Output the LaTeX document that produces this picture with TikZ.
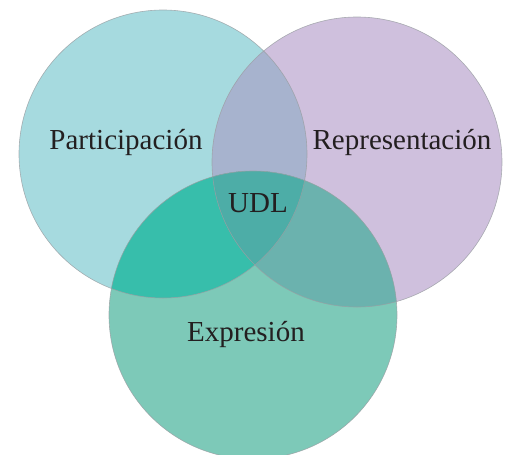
\documentclass[tikz,border=0pt]{standalone}
\usepackage{fontspec}
\setmainfont{Liberation Serif}
\definecolor{cL}{HTML}{A6DADF}
\definecolor{cR}{HTML}{CFC0DD}
\definecolor{cB}{HTML}{7DC9B8}
\definecolor{cLR}{HTML}{A7B3CE}
\definecolor{cLB}{HTML}{37BEAB}
\definecolor{cRB}{HTML}{6BB2AE}
\definecolor{cLRB}{HTML}{4DADA7}
\definecolor{txt}{HTML}{231F20}
\definecolor{edge}{HTML}{9A9FA3}
\tikzset{
  lbl/.style={anchor=base, text=txt, font=\fontsize{29}{32}\selectfont, inner sep=0pt},
  rim/.style={draw=edge, line width=0.6pt, draw opacity=0.8}
}
\begin{document}
\begin{tikzpicture}[x=1pt,y=-1pt]
\useasboundingbox (0,0) rectangle (506,455);
\clip (0,0) rectangle (506,455);
\def\Lc{(163,154) circle[radius=144]}
\def\Rc{(357,162) circle[radius=145]}
\def\Bc{(253,315) circle[radius=144]}
\fill[cL] \Lc;
\fill[cR] \Rc;
\fill[cB] \Bc;
\begin{scope}\clip \Lc; \fill[cLR] \Rc; \fill[cLB] \Bc; \end{scope}
\begin{scope}\clip \Rc; \fill[cRB] \Bc; \end{scope}
\begin{scope}\clip \Lc; \clip \Rc; \fill[cLRB] \Bc; \end{scope}
\draw[rim] \Lc;
\draw[rim] \Rc;
\draw[rim] \Bc;
\node[lbl] (part) at (126,149) {Participación};
\node[lbl] (repr) at (402,149) {Representación};
\node[lbl] (udl) at (258,212) {UDL};
\node[lbl] (expr) at (246,341) {Expresión};
\end{tikzpicture}
\end{document}
